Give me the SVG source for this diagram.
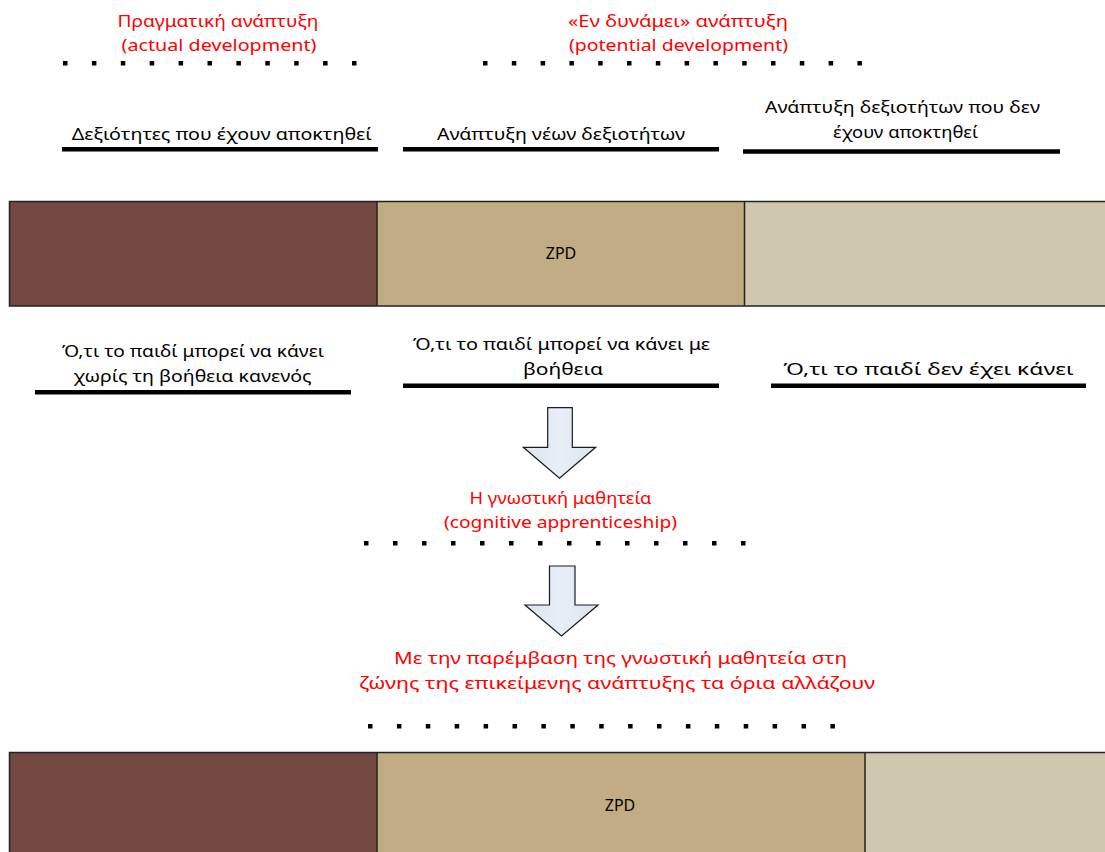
<svg xmlns="http://www.w3.org/2000/svg" width="1105" height="852" viewBox="0 0 1105 852">
  <style>
    text { font-family: "Noto Sans", "Liberation Sans", sans-serif; font-size: 17px; text-anchor: middle; }
    .red { fill: #ff0000; }
    .blk { fill: #000000; }
    .dot { fill: #000000; }
    .rule { stroke: #000000; stroke-width: 4.5; }
    .seg { stroke: #222222; stroke-width: 1.5; }
    .s1 { fill: #734842; }
    .s2 { fill: #c2ac84; }
    .s3 { fill: #cfc8af; }
    .arrow { fill: url(#arrowFill); stroke: #1a1a1a; stroke-width: 1.2; stroke-linejoin: miter; }
  </style>
  <defs>
    <linearGradient id="arrowFill" x1="0" y1="0" x2="1" y2="0">
      <stop offset="0" stop-color="#dde4ef"/>
      <stop offset="0.5" stop-color="#e8eef7"/>
      <stop offset="1" stop-color="#dde4ef"/>
    </linearGradient>
    <!-- one square dot of a dotted rule -->
    <rect id="sq" x="-2" y="-2" width="4.5" height="4.5" class="dot"/>
  </defs>
  <rect width="1105" height="852" fill="#ffffff"/>

  <!-- headings above the upper bar -->
  <g id="actual-heading">
    <text class="red" x="218" y="27" textLength="201" lengthAdjust="spacingAndGlyphs">Πραγματική ανάπτυξη</text>
    <text class="red" x="219" y="51" textLength="195" lengthAdjust="spacingAndGlyphs">(actual development)</text>
    <g id="dots-actual">
      <use href="#sq" x="65" y="63"/><use href="#sq" x="93.9" y="63"/><use href="#sq" x="122.8" y="63"/>
      <use href="#sq" x="151.7" y="63"/><use href="#sq" x="180.6" y="63"/><use href="#sq" x="209.5" y="63"/>
      <use href="#sq" x="238.4" y="63"/><use href="#sq" x="267.3" y="63"/><use href="#sq" x="296.2" y="63"/>
      <use href="#sq" x="325.1" y="63"/><use href="#sq" x="354" y="63"/>
    </g>
  </g>
  <g id="potential-heading">
    <text class="red" x="678" y="27" textLength="220" lengthAdjust="spacingAndGlyphs">«Εν δυνάμει»  ανάπτυξη</text>
    <text class="red" x="678.5" y="51" textLength="219" lengthAdjust="spacingAndGlyphs">(potential development)</text>
    <g id="dots-potential">
      <use href="#sq" x="485" y="63"/><use href="#sq" x="513.8" y="63"/><use href="#sq" x="542.6" y="63"/>
      <use href="#sq" x="571.4" y="63"/><use href="#sq" x="600.2" y="63"/><use href="#sq" x="629" y="63"/>
      <use href="#sq" x="657.8" y="63"/><use href="#sq" x="686.6" y="63"/><use href="#sq" x="715.4" y="63"/>
      <use href="#sq" x="744.2" y="63"/><use href="#sq" x="773" y="63"/><use href="#sq" x="801.8" y="63"/>
      <use href="#sq" x="830.6" y="63"/><use href="#sq" x="859.4" y="63"/>
    </g>
  </g>

  <!-- labels over the three parts of the upper bar -->
  <g id="label-acquired">
    <text class="blk" x="221.7" y="140" textLength="300" lengthAdjust="spacingAndGlyphs">Δεξιότητες που έχουν αποκτηθεί</text>
    <line class="rule" x1="62" y1="149.2" x2="378" y2="149.2"/>
  </g>
  <g id="label-new">
    <text class="blk" x="561" y="140" textLength="248" lengthAdjust="spacingAndGlyphs">Ανάπτυξη νέων δεξιοτήτων</text>
    <line class="rule" x1="403" y1="149.2" x2="719" y2="149.2"/>
  </g>
  <g id="label-not-acquired">
    <text class="blk" x="902.5" y="113" textLength="275" lengthAdjust="spacingAndGlyphs">Ανάπτυξη δεξιοτήτων που δεν</text>
    <text class="blk" x="905.5" y="138" textLength="145" lengthAdjust="spacingAndGlyphs">έχουν αποκτηθεί</text>
    <line class="rule" x1="743" y1="151.5" x2="1060" y2="151.5"/>
  </g>

  <!-- upper development bar -->
  <g id="bar-top">
    <rect class="s1" x="9.5" y="201.5" width="367.5" height="104.5"/>
    <rect class="s2" x="377" y="201.5" width="367.5" height="104.5"/>
    <rect class="s3" x="744.5" y="201.5" width="362" height="104.5"/>
    <path class="seg" fill="none" d="M1106 201.5 H9.5 V306 H1106 M377 201.5 V306 M744.5 201.5 V306"/>
    <text class="blk" x="561" y="259" style="font-size:16px">ZPD</text>
  </g>

  <!-- labels under the upper bar -->
  <g id="label-alone">
    <text class="blk" x="193" y="357" textLength="262" lengthAdjust="spacingAndGlyphs">Ό,τι το παιδί μπορεί να κάνει</text>
    <text class="blk" x="192.5" y="382" textLength="238" lengthAdjust="spacingAndGlyphs">χωρίς τη βοήθεια κανενός</text>
    <line class="rule" x1="35" y1="392.2" x2="351" y2="392.2"/>
  </g>
  <g id="label-helped">
    <text class="blk" x="561.5" y="350" textLength="297" lengthAdjust="spacingAndGlyphs">Ό,τι το παιδί μπορεί να κάνει με</text>
    <text class="blk" x="563" y="375" textLength="80" lengthAdjust="spacingAndGlyphs">βοήθεια</text>
    <line class="rule" x1="403" y1="385.7" x2="719" y2="385.7"/>
  </g>
  <g id="label-not-done">
    <text class="blk" x="928.5" y="375" textLength="290" lengthAdjust="spacingAndGlyphs">Ό,τι το παιδί δεν έχει κάνει</text>
    <line class="rule" x1="771" y1="385.7" x2="1086" y2="385.7"/>
  </g>

  <!-- downward block arrows -->
  <g id="connectors">
    <path class="arrow" d="M547.7 407.7 H572.3 V447.3 H595.7 L559.5 478.3 L523.3 447.3 H547.7 Z"/>
    <path class="arrow" d="M549.5 566 H575 V605 H598 L561.5 636 L525 605 H549.5 Z"/>
  </g>

  <g id="apprenticeship">
    <text class="red" x="560.5" y="504" textLength="182" lengthAdjust="spacingAndGlyphs">Η γνωστική μαθητεία</text>
    <text class="red" x="560.5" y="528" textLength="233" lengthAdjust="spacingAndGlyphs">(cognitive apprenticeship)</text>
    <g id="dots-apprenticeship">
      <use href="#sq" x="366" y="543"/><use href="#sq" x="395" y="543"/><use href="#sq" x="424" y="543"/>
      <use href="#sq" x="453" y="543"/><use href="#sq" x="482" y="543"/><use href="#sq" x="511" y="543"/>
      <use href="#sq" x="540" y="543"/><use href="#sq" x="569" y="543"/><use href="#sq" x="598" y="543"/>
      <use href="#sq" x="627" y="543"/><use href="#sq" x="656" y="543"/><use href="#sq" x="685" y="543"/>
      <use href="#sq" x="714" y="543"/><use href="#sq" x="743" y="543"/>
    </g>
  </g>

  <g id="intervention">
    <text class="red" x="620.5" y="664" textLength="453" lengthAdjust="spacingAndGlyphs">Με την παρέμβαση της γνωστική μαθητεία στη</text>
    <text class="red" x="617" y="689" textLength="516" lengthAdjust="spacingAndGlyphs">ζώνης της επικείμενης ανάπτυξης τα όρια αλλάζουν</text>
    <g id="dots-intervention">
      <use href="#sq" x="370" y="726"/><use href="#sq" x="398.9" y="726"/><use href="#sq" x="427.8" y="726"/>
      <use href="#sq" x="456.7" y="726"/><use href="#sq" x="485.6" y="726"/><use href="#sq" x="514.5" y="726"/>
      <use href="#sq" x="543.4" y="726"/><use href="#sq" x="572.3" y="726"/><use href="#sq" x="601.2" y="726"/>
      <use href="#sq" x="630.1" y="726"/><use href="#sq" x="659" y="726"/><use href="#sq" x="687.9" y="726"/>
      <use href="#sq" x="716.8" y="726"/><use href="#sq" x="745.7" y="726"/><use href="#sq" x="774.6" y="726"/>
      <use href="#sq" x="803.5" y="726"/><use href="#sq" x="832.4" y="726"/>
    </g>
  </g>

  <!-- lower development bar, ZPD widened -->
  <g id="bar-bottom">
    <rect class="s1" x="9.5" y="752.5" width="367.5" height="100"/>
    <rect class="s2" x="377" y="752.5" width="488" height="100"/>
    <rect class="s3" x="865" y="752.5" width="241" height="100"/>
    <path class="seg" fill="none" d="M1106 752.5 H9.5 V853 M377 752.5 V853 M865 752.5 V853"/>
    <text class="blk" x="620" y="811" style="font-size:16px">ZPD</text>
  </g>
</svg>
